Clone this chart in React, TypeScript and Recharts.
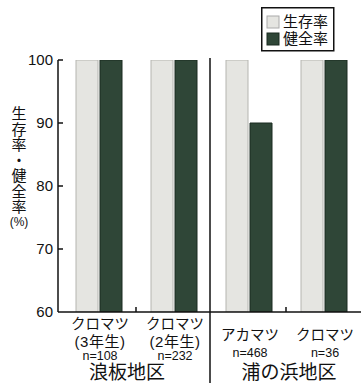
import React from 'react';
import { BarChart, Bar, XAxis, YAxis } from 'recharts';

// 各地区・樹種の生存率と健全率 (%)
const sites = ['クロマツ', 'クロマツ', 'アカマツ', 'クロマツ'];
const ages = ['(3年生)', '(2年生)', '', ''];
const sampleSizes = ['n=108', 'n=232', 'n=468', 'n=36'];
const regions = ['浪板地区', '', '浦の浜地区', ''];
const survival = [100, 100, 100, 100];
const health = [100, 100, 90, 100];
const yTicks = [60, 70, 80, 90, 100];
const seriesNames = ['生存率', '健全率'];

const data = sites.map((s, i) => ({
  id: String(i),
  site: s,
  age: ages[i],
  n: sampleSizes[i],
  region: regions[i],
  生存率: survival[i],
  健全率: health[i],
}));

const W = 361;
const H = 383;
const M = { top: 60, right: 0, bottom: 0, left: 0 };
const Y_W = 58;
const X_H = 71;
const PAD_L = 3;
const BAND = (W - Y_W - PAD_L) / sites.length;
const PLOT_H = H - M.top - X_H;
const REGION_DX = [-9, 3, 3, 3];

const FONT = '"Liberation Sans", Arial, "Noto Sans CJK JP", sans-serif';
const LIGHT = '#e5e5e1';
const DARK = '#2f4637';

const XTick = (props: any) => {
  const { x, y, index } = props;
  const d = data[index];
  const hasAge = d.age !== '';
  return (
    <g fontFamily={FONT} fill="#111">
      <text x={x + 1.5} y={hasAge ? y + 17 : y + 28} textAnchor="middle" fontSize={14.5}>{d.site}</text>
      {hasAge && <text x={x + 1.5} y={y + 35} textAnchor="middle" fontSize={15} letterSpacing={0.5}>{d.age}</text>}
      <text x={x + 1.5} y={hasAge ? y + 48 : y + 45} textAnchor="middle" fontSize={12.5}>{d.n}</text>
      {d.region && (
        <text x={x + BAND / 2 + REGION_DX[index]} y={y + 67} textAnchor="middle" fontSize={19}>{d.region}</text>
      )}
      {index % 2 === 0 && (
        <line x1={x + BAND / 2} x2={x + BAND / 2} y1={y} y2={y - 5} stroke="#111" strokeWidth={1.5} />
      )}
      {index === 2 && (
        <line x1={x - BAND / 2 - 1} x2={x - BAND / 2 - 1} y1={y - PLOT_H - 2} y2={H} stroke="#111" strokeWidth={1.5} />
      )}
    </g>
  );
};

const YTick = (props: any) => {
  const { x, y, payload } = props;
  return (
    <g fontFamily={FONT} fill="#111">
      <text x={x - 5} y={y + 5} textAnchor="end" fontSize={15}>{payload.value}</text>
      {payload.value !== 60 && <line x1={x} x2={x + 5} y1={y} y2={y} stroke="#111" strokeWidth={1.5} />}
    </g>
  );
};

const titleChars = ['生', '存', '率', '・', '健', '全', '率'];

const YTitle = () => (
  <g fontFamily={FONT} fill="#111">
    {titleChars.map((c, i) => (
      <text key={i} x={19} y={119 + i * 15.5} textAnchor="middle" fontSize={15}>{c}</text>
    ))}
    <text x={19} y={226} textAnchor="middle" fontSize={12}>(%)</text>
  </g>
);

const LegendBox = () => (
  <svg width={74} height={45} style={{ position: 'absolute', left: 261, top: 7 }}>
    <rect x={0.75} y={0.75} width={72} height={43} fill="#fff" stroke="#111" strokeWidth={1.5} />
    <rect x={6} y={9} width={12} height={12} fill={LIGHT} stroke="#aaa" />
    <text x={22} y={20} fontSize={15} fontFamily={FONT} fill="#111">{seriesNames[0]}</text>
    <rect x={6} y={26} width={12} height={12} fill={DARK} stroke="#1a2a20" />
    <text x={22} y={37} fontSize={15} fontFamily={FONT} fill="#111">{seriesNames[1]}</text>
  </svg>
);

export default function App() {
  return (
    <div style={{ position: 'absolute', left: 0, top: 0, width: W, height: H, background: '#fff', overflow: 'hidden' }}>
      <BarChart width={W} height={H} data={data} margin={M} barSize={22} barGap={2}>
        <XAxis
          dataKey="id"
          interval={0}
          height={X_H}
          padding={{ left: PAD_L, right: 0 }}
          tickLine={false}
          tickSize={0}
          tickMargin={0}
          tick={<XTick />}
          axisLine={{ stroke: '#111', strokeWidth: 1.5 }}
        />
        <YAxis
          width={Y_W}
          domain={[60, 100]}
          ticks={yTicks}
          allowDataOverflow
          tickLine={false}
          tickSize={0}
          tickMargin={0}
          tick={<YTick />}
          axisLine={{ stroke: '#111', strokeWidth: 1.5 }}
          label={{ content: () => <YTitle /> }}
        />
        <Bar dataKey={seriesNames[0]} fill={LIGHT} stroke="#b5b5b0" strokeWidth={1} isAnimationActive={false} />
        <Bar dataKey={seriesNames[1]} fill={DARK} stroke="#1a2a20" strokeWidth={1} isAnimationActive={false} />
      </BarChart>
      <LegendBox />
    </div>
  );
}
